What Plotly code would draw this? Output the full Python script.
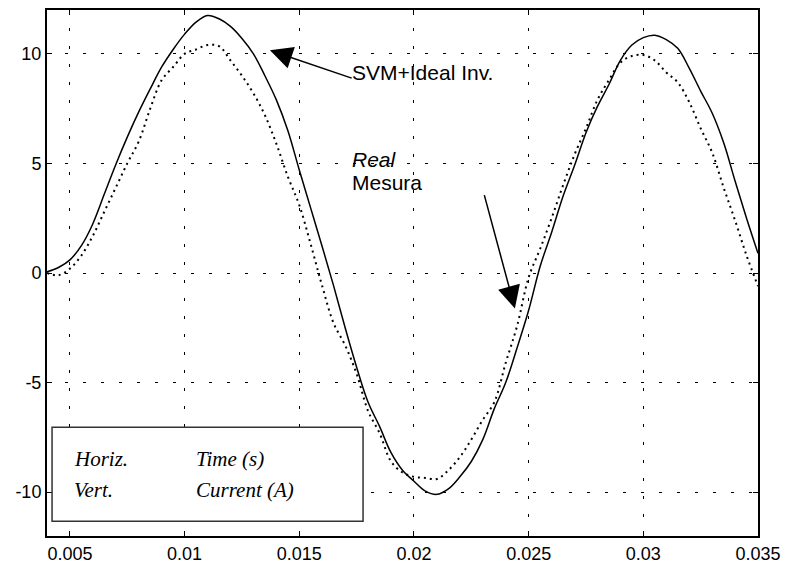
import plotly.graph_objects as go

# time axis (s)
t = [0.0040, 0.0045, 0.0050, 0.0055, 0.0060, 0.0065, 0.0070, 0.0075, 0.0080, 0.0085,
     0.0090, 0.0095, 0.0100, 0.0105, 0.0110, 0.0115, 0.0120, 0.0125, 0.0130, 0.0135,
     0.0140, 0.0145, 0.0150, 0.0155, 0.0160, 0.0165, 0.0170, 0.0175, 0.0180, 0.0185,
     0.0190, 0.0195, 0.0200, 0.0205, 0.0210, 0.0215, 0.0220, 0.0225, 0.0230, 0.0235,
     0.0240, 0.0245, 0.0250, 0.0255, 0.0260, 0.0265, 0.0270, 0.0275, 0.0280, 0.0285,
     0.0290, 0.0295, 0.0300, 0.0305, 0.0310, 0.0315, 0.0320, 0.0325, 0.0330, 0.0335,
     0.0340, 0.0345, 0.0350]

# SVM + ideal inverter (solid)
svm_ideal = [0.05, 0.25, 0.6, 1.25, 2.25, 3.6, 4.95, 6.2, 7.35, 8.4,
             9.4, 10.2, 10.9, 11.45, 11.75, 11.6, 11.25, 10.7, 10.0, 9.0,
             7.9, 6.5, 4.7, 2.95, 1.2, -0.6, -2.5, -4.3, -5.9, -7.0,
             -8.2, -9.0, -9.5, -9.95, -10.1, -9.85, -9.3, -8.6, -7.6, -6.2,
             -5.0, -3.4, -1.7, 0.3, 1.85, 3.5, 4.9, 6.4, 7.6, 8.6,
             9.7, 10.4, 10.74, 10.85, 10.65, 10.25, 9.35, 8.3, 7.3, 5.95,
             4.2, 2.5, 0.9]

# measured current (dotted)
real_mesura = [0.0, -0.1, 0.2, 0.8, 1.7, 2.8, 3.9, 5.0, 6.0, 7.5,
               8.8, 9.4, 10.0, 10.2, 10.4, 10.35, 9.7, 9.0, 8.2, 7.2,
               5.9, 4.4, 3.1, 1.3, -0.6, -2.3, -3.3, -4.6, -6.3, -7.3,
               -8.6, -9.1, -9.3, -9.35, -9.4, -9.0, -8.4, -7.6, -6.7, -5.9,
               -4.1, -2.4, -0.2, 1.1, 2.5, 4.0, 5.4, 6.6, 7.9, 8.8,
               9.6, 9.9, 9.95, 9.7, 9.15, 8.7, 7.8, 6.6, 5.5, 3.9,
               2.4, 0.8, -0.6]

x_ticks = [0.005, 0.01, 0.015, 0.02, 0.025, 0.03, 0.035]
x_tick_text = ["0.005", "0.01", "0.015", "0.02", "0.025", "0.03", "0.035"]
y_ticks = [-10, -5, 0, 5, 10]
y_tick_text = ["-10", "-5", "0", "5", "10"]

fig = go.Figure()
fig.add_trace(go.Scatter(x=t, y=real_mesura, mode="lines", name="Real Mesura",
                         line=dict(color="black", width=2, dash="2px,4px", shape="spline")))
fig.add_trace(go.Scatter(x=t, y=svm_ideal, mode="lines", name="SVM+Ideal Inv.",
                         line=dict(color="black", width=1.5, shape="spline")))

axis_common = dict(showline=True, linecolor="black", linewidth=2, mirror="ticks",
                   ticks="inside", ticklen=5, tickcolor="black", tickwidth=1,
                   showgrid=True, gridcolor="black", gridwidth=1, griddash="3px,15px",
                   zeroline=False, automargin=False,
                   tickfont=dict(family="Liberation Sans, Arial, sans-serif", size=18, color="black"))

fig.update_xaxes(range=[0.004, 0.035], tickvals=x_ticks, ticktext=x_tick_text, **axis_common)
fig.update_yaxes(range=[-12, 12], tickvals=y_ticks, ticktext=y_tick_text, **axis_common)

ann_font = dict(family="Liberation Sans, Arial, sans-serif", size=21, color="black")
legend_font = dict(family="Liberation Serif, Times New Roman, serif", size=21, color="black")

annotations = [
    # arrow to the ideal curve
    dict(x=0.01372, y=10.16, ax=0.01735, ay=8.87, xref="x", yref="y", axref="x", ayref="y",
         text="", showarrow=True, arrowhead=2, arrowsize=3, arrowwidth=1.5, arrowcolor="black"),
    dict(x=0.0172, y=9.16, xref="x", yref="y", text="SVM+Ideal Inv.", showarrow=False,
         xanchor="left", yanchor="middle", font=ann_font),
    # arrow to the measured curve
    dict(x=0.0244, y=-1.62, ax=0.02305, ay=3.62, xref="x", yref="y", axref="x", ayref="y",
         text="", showarrow=True, arrowhead=2, arrowsize=3, arrowwidth=1.5, arrowcolor="black"),
    dict(x=0.0172, y=5.19, xref="x", yref="y", text="<i>Real</i>", showarrow=False,
         xanchor="left", yanchor="middle", font=ann_font),
    dict(x=0.0172, y=4.15, xref="x", yref="y", text="Mesura", showarrow=False,
         xanchor="left", yanchor="middle", font=ann_font),
    # axis description box
    dict(x=0.00509, y=-8.5, xref="x", yref="y", text="<i>Horiz.</i>", showarrow=False,
         xanchor="left", yanchor="middle", font=legend_font),
    dict(x=0.01041, y=-8.5, xref="x", yref="y", text="<i>Time (s)</i>", showarrow=False,
         xanchor="left", yanchor="middle", font=legend_font),
    dict(x=0.00509, y=-9.91, xref="x", yref="y", text="<i>Vert.</i>", showarrow=False,
         xanchor="left", yanchor="middle", font=legend_font),
    dict(x=0.01041, y=-9.91, xref="x", yref="y", text="<i>Current (A)</i>", showarrow=False,
         xanchor="left", yanchor="middle", font=legend_font),
]

fig.update_layout(
    width=786, height=566,
    margin=dict(l=47, r=28, t=10, b=30),
    paper_bgcolor="white", plot_bgcolor="white",
    showlegend=False,
    annotations=annotations,
    shapes=[dict(type="rect", xref="x", yref="y", x0=0.00422, x1=0.01778, y0=-11.33, y1=-7.04,
                 line=dict(color="#333333", width=1.5), fillcolor="white", layer="above")],
)

fig.write_html("out.html")
